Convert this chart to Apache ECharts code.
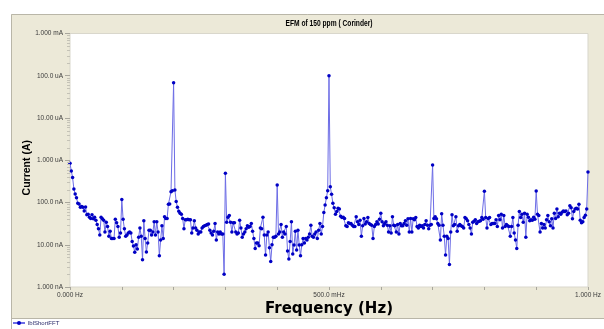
<!DOCTYPE html>
<html>
<head>
<meta charset="utf-8">
<script src="https://cdn.jsdelivr.net/npm/echarts@6/dist/echarts.min.js"></script>
<style>
  html, body { margin: 0; padding: 0; background: #fff; }
  #chart { width: 604px; height: 329px; }
</style>
</head>
<body>
<div id="chart"></div>
<script>
// EFM current spectrum, 150 ppm Corinder sample
const chartTitle = 'EFM of 150 ppm ( Corinder)';
const seriesName = 'lblShortFFT';
const xAxisName = 'Frequency (Hz)';
const yAxisName = 'Current (A)';

// FFT bin spacing (Hz); bins run from 0 Hz to 1 Hz
const freqStep = 0.0025;

// Current per bin, in nA
const currentNA = [
  850, 560, 390, 210, 160, 130, 96, 92, 77, 80, 77, 63, 78, 51, 53, 45, 42, 51, 41, 45,
  38, 30, 24, 17, 45, 41, 38, 20, 34, 27, 16, 21, 14, 14, 14, 40, 33, 27, 15, 19,
  117, 40, 24, 16, 17, 19, 20, 19, 12, 9.4, 6.6, 10, 7.9, 15, 25, 16, 4.4, 37, 14, 6.7,
  11, 22, 22, 17, 20, 35, 17, 35, 20, 5.5, 13, 28, 14, 46, 42, 42, 91, 92, 180, 190,
  68000, 198, 105, 77, 62, 56, 53, 42, 24, 39, 39, 40, 39, 39, 19, 25, 37, 25, 22, 18,
  20, 20, 25, 27, 28, 29, 30, 31, 22, 19, 17, 21, 32, 13, 20, 18, 20, 18, 18, 2.0,
  490, 34, 45, 49, 34, 20, 33, 33, 20, 18, 19, 38, 25, 15, 18, 20, 24, 28, 26, 27,
  32, 21, 14, 8.2, 11, 11, 9.5, 25, 24, 45, 17, 5.7, 17, 20, 8.5, 4.0, 10, 15, 15, 16,
  260, 18, 20, 30, 15, 20, 18, 27, 7.1, 4.6, 12, 35, 6.0, 9.9, 21, 7.5, 22, 9.9, 5.5, 10,
  14, 11, 14, 13, 15, 18, 29, 16, 15, 18, 20, 14, 22, 32, 18, 27, 58, 87, 130, 190,
  100000, 235, 156, 96, 75, 53, 61, 73, 70, 47, 44, 45, 42, 28, 27, 33, 32, 32, 29, 27,
  27, 46, 35, 30, 38, 16, 28, 42, 31, 35, 44, 32, 30, 29, 14, 27, 30, 35, 31, 40,
  56, 35, 28, 32, 35, 29, 20, 28, 19, 46, 29, 28, 20, 30, 18, 32, 28, 28, 32, 37,
  29, 41, 20, 42, 20, 41, 39, 44, 27, 25, 29, 27, 28, 25, 30, 37, 29, 24, 29, 30,
  770, 42, 46, 41, 32, 29, 13, 54, 29, 16, 5.7, 16, 14, 3.4, 20, 51, 28, 30, 46, 21,
  28, 30, 28, 27, 25, 44, 41, 37, 30, 25, 18, 34, 36, 39, 32, 35, 36, 37, 44, 40,
  185, 44, 25, 42, 44, 30, 32, 32, 32, 39, 27, 49, 39, 53, 25, 49, 27, 30, 28, 27,
  16, 27, 44, 19, 13, 8.2, 29, 61, 44, 53, 34, 56, 15, 53, 45, 37, 39, 38, 45, 40,
  188, 53, 49, 20, 32, 25, 30, 25, 39, 49, 35, 28, 41, 25, 56, 42, 70, 46, 56, 53,
  59, 63, 61, 63, 51, 56, 84, 75, 41, 61, 70, 73, 70, 91, 38, 33, 35, 44, 50, 70,
  525
];

// Axis tick labels (y: one per decade starting at 1 nA)
const yTickLabels = ['1.000 nA', '10.00 nA', '100.0 nA', '1.000 uA', '10.00 uA', '100.0 uA', '1.000 mA'];
const xTickValues = [0, 0.5, 1];
const xTickLabels = ['0.000 Hz', '500.0 mHz', '1.000 Hz'];

const seriesData = currentNA.map((v, i) => [i * freqStep, v]);

const panelColor = '#ECE9D8';
const edgeColor = '#B9B6A8';
const labelColor = '#3a3a3a';
const smallFont = 'Liberation Sans, Arial, sans-serif';

const chart = echarts.init(document.getElementById('chart'), null, { renderer: 'canvas' });

const option = {
  animation: false,
  backgroundColor: panelColor,
  grid: {
    left: 70, right: 12, top: 33.5, bottom: 42,
    show: true, backgroundColor: '#ffffff', borderColor: '#d9d7cc', borderWidth: 1
  },
  legend: {
    left: 12, top: 320, padding: 0,
    itemWidth: 12, itemHeight: 5, itemGap: 4,
    textStyle: { fontSize: 6, color: '#2a2a6a', fontFamily: smallFont, padding: [0, 0, 0, -2] },
    data: [seriesName]
  },
  xAxis: {
    type: 'value', min: 0, max: 1, interval: 0.1,
    name: xAxisName, nameLocation: 'middle', nameGap: 15, nameMoveOverlap: false,
    nameTextStyle: { fontSize: 15, fontWeight: 'bold', color: '#000', fontFamily: 'DejaVu Sans, sans-serif' },
    axisLine: { show: false },
    axisTick: { show: true, length: 3, lineStyle: { color: '#a8a69c' } },
    splitLine: { show: false },
    axisLabel: {
      fontSize: 6.5, color: labelColor, fontFamily: smallFont, margin: 5,
      showMinLabel: true, showMaxLabel: true,
      formatter: (v) => {
        const k = xTickValues.findIndex(t => Math.abs(t - v) < 1e-6);
        return k >= 0 ? xTickLabels[k] : '';
      }
    }
  },
  yAxis: {
    type: 'log', logBase: 10, min: 1, max: 1e6,
    name: yAxisName, nameLocation: 'middle', nameGap: 37, nameMoveOverlap: false,
    nameTextStyle: {
      fontSize: 10.5, fontWeight: 'bold', color: '#000',
      fontFamily: 'Liberation Sans, Arial, sans-serif', padding: [0, 15, 0, 0]
    },
    axisLine: { show: false },
    axisTick: { show: true, length: 5, lineStyle: { color: '#a8a69c' } },
    splitLine: { show: false },
    axisLabel: {
      fontSize: 6.5, color: labelColor, fontFamily: smallFont, margin: 7,
      formatter: (v) => yTickLabels[Math.round(Math.log10(v))] || ''
    }
  },
  series: [{
    name: seriesName,
    type: 'line',
    data: seriesData,
    symbol: 'circle',
    symbolSize: 3.5,
    showAllSymbol: true,
    itemStyle: { color: '#0000c4' },
    lineStyle: { color: '#6d6de6', width: 1 },
    emphasis: { disabled: true }
  }]
};

chart.setOption(option);

// Frame of the panel, title, legend strip and logarithmic minor ticks
const gridRect = chart.getModel().getComponent('grid').coordinateSystem.getRect();
const elements = [
  { type: 'rect', shape: { x: 0, y: 0, width: 604, height: 14 }, style: { fill: '#fff' }, z: 10, silent: true },
  { type: 'rect', shape: { x: 0, y: 0, width: 11, height: 329 }, style: { fill: '#fff' }, z: 10, silent: true },
  { type: 'rect', shape: { x: 11, y: 318.5, width: 593, height: 11 }, style: { fill: '#fff' }, z: 0, silent: true },
  { type: 'line', shape: { x1: 11.5, y1: 14.5, x2: 604, y2: 14.5 }, style: { stroke: edgeColor, lineWidth: 1 }, z: 11, silent: true },
  { type: 'line', shape: { x1: 11.5, y1: 14.5, x2: 11.5, y2: 329 }, style: { stroke: edgeColor, lineWidth: 1 }, z: 11, silent: true },
  { type: 'line', shape: { x1: 11.5, y1: 318.5, x2: 604, y2: 318.5 }, style: { stroke: edgeColor, lineWidth: 1 }, z: 11, silent: true },
  {
    // condensed bold title centred over the plot
    type: 'text', x: gridRect.x + gridRect.width / 2, y: 23.5, scaleX: 0.74, z: 11, silent: true,
    style: {
      text: chartTitle, fill: '#000', font: 'bold 9px "Liberation Sans", Arial, sans-serif',
      textAlign: 'center', textVerticalAlign: 'middle'
    }
  }
];
for (let d = 0; d < yTickLabels.length - 1; d++) {
  for (let m = 2; m <= 9; m++) {
    const py = chart.convertToPixel({ yAxisIndex: 0 }, m * Math.pow(10, d));
    elements.push({
      type: 'line', silent: true, z: 11,
      shape: { x1: gridRect.x - 3, y1: Math.round(py) + 0.5, x2: gridRect.x, y2: Math.round(py) + 0.5 },
      style: { stroke: '#c4c2b6', lineWidth: 1 }
    });
  }
}
chart.setOption({ graphic: { elements } });
</script>
</body>
</html>
